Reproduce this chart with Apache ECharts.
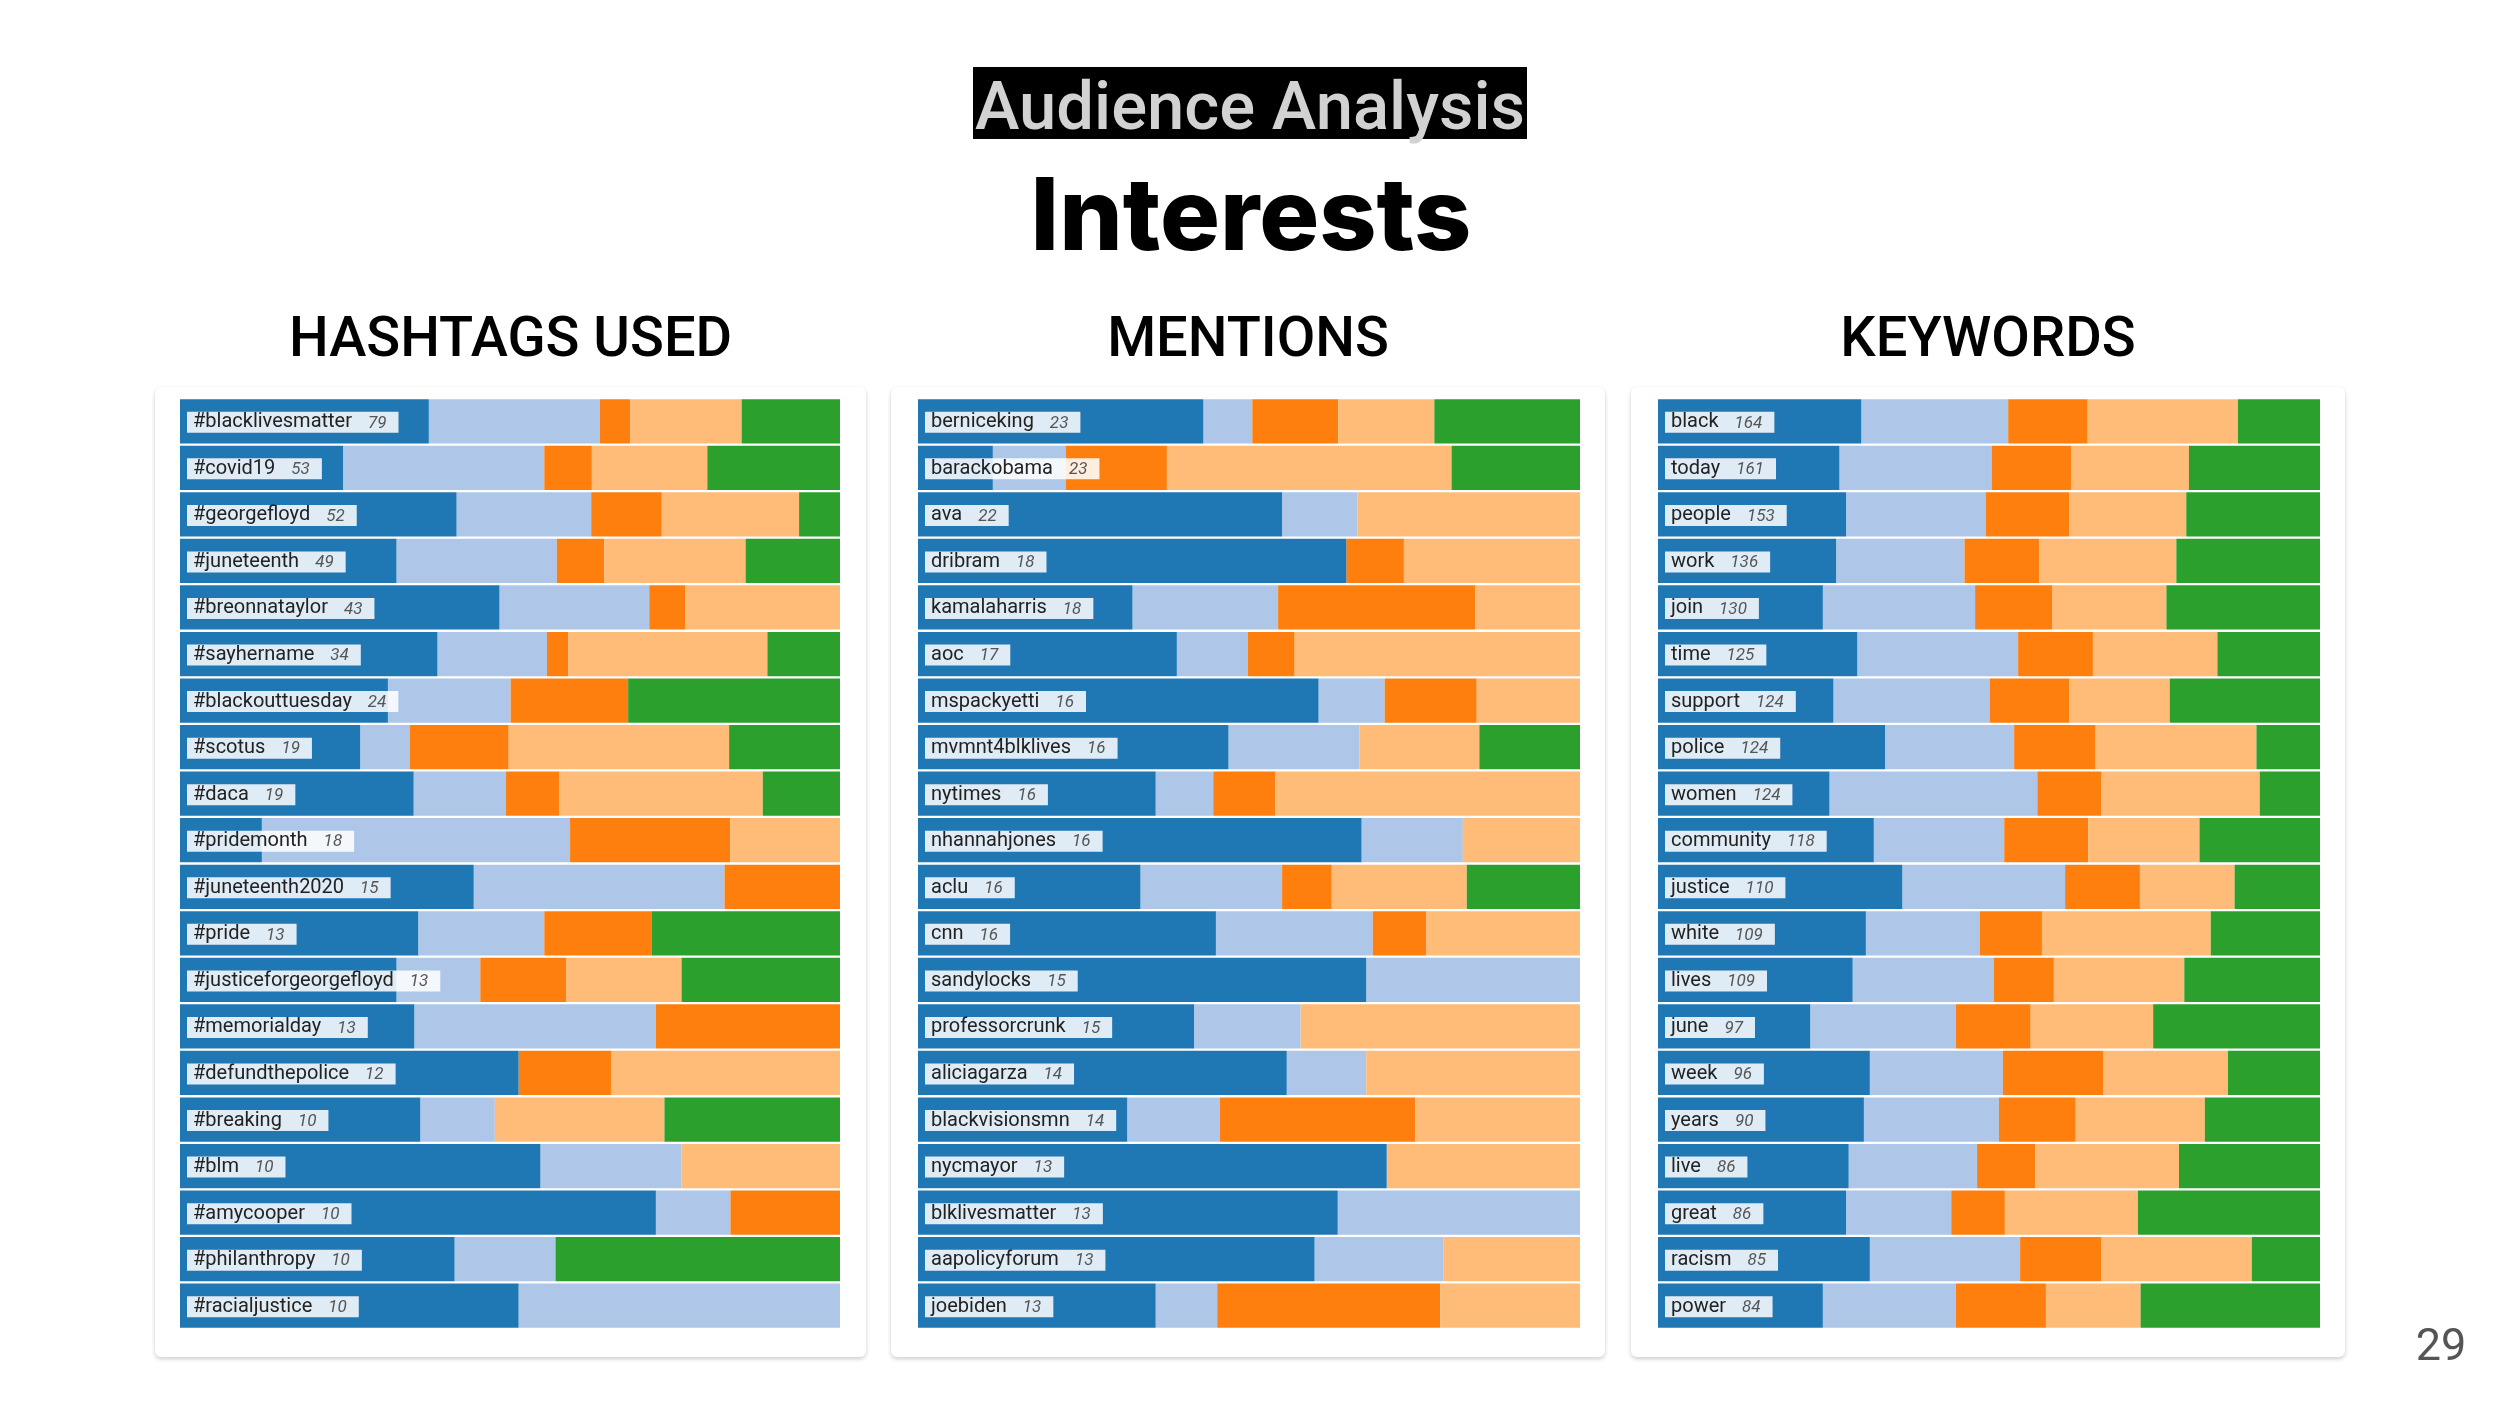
<!DOCTYPE html>
<html><head><meta charset="utf-8">
<script src="https://cdn.jsdelivr.net/npm/echarts@6/dist/echarts.min.js"></script>
<style>html,body{margin:0;padding:0;background:#fff}#c{width:2500px;height:1407px}</style>
</head><body><div id="c"></div>
<script>
// ---------- DATA ----------
const segmentNames = ['Segment 1', 'Segment 2', 'Segment 3', 'Segment 4', 'Segment 5'];
const panelTitles = ['HASHTAGS USED', 'MENTIONS', 'KEYWORDS'];

const hashtagNames = ['#blacklivesmatter','#covid19','#georgefloyd','#juneteenth','#breonnataylor','#sayhername','#blackouttuesday','#scotus','#daca','#pridemonth','#juneteenth2020','#pride','#justiceforgeorgefloyd','#memorialday','#defundthepolice','#breaking','#blm','#amycooper','#philanthropy','#racialjustice'];
const hashtagCounts = [79,53,52,49,43,34,24,19,19,18,15,13,13,13,12,10,10,10,10,10];
const hashtagS1 = [37.7,24.7,41.9,32.8,48.4,39.0,31.5,27.3,35.4,12.4,44.5,36.1,32.8,35.5,51.3,36.4,54.6,72.1,41.6,51.3];
const hashtagS2 = [25.9,30.5,20.4,24.3,22.7,16.6,18.6,7.5,14.0,46.7,38.0,19.1,12.7,36.6,0,11.3,21.4,11.3,15.3,48.7];
const hashtagS3 = [4.6,7.2,10.7,7.2,5.5,3.2,17.8,15.0,8.1,24.3,17.5,16.3,13.0,27.9,14.0,0,0,16.6,0,0];
const hashtagS4 = [16.9,17.5,20.8,21.4,23.4,30.2,0,33.4,30.8,16.6,0,0,17.5,0,34.7,25.7,24.0,0,0,0];
const hashtagS5 = [14.9,20.1,6.2,14.3,0,11.0,32.1,16.8,11.7,0,0,28.5,24.0,0,0,26.6,0,0,43.1,0];

const mentionNames = ['berniceking','barackobama','ava','dribram','kamalaharris','aoc','mspackyetti','mvmnt4blklives','nytimes','nhannahjones','aclu','cnn','sandylocks','professorcrunk','aliciagarza','blackvisionsmn','nycmayor','blklivesmatter','aapolicyforum','joebiden'];
const mentionCounts = [23,23,22,18,18,17,16,16,16,16,16,16,15,15,14,14,13,13,13,13];
const mentionS1 = [43.1,11.3,55.0,64.7,32.4,39.1,60.5,46.9,35.9,67.0,33.6,45.0,67.7,41.7,55.7,31.6,70.8,63.4,59.9,35.9];
const mentionS2 = [7.4,11.0,11.4,0,22.0,10.7,10.0,19.8,8.7,15.3,21.4,23.7,32.3,16.1,12.0,14.0,0,36.6,19.5,9.3];
const mentionS3 = [13.0,15.3,0,8.7,29.8,7.1,13.9,0,9.4,0,7.5,8.1,0,0,0,29.5,0,0,0,33.7];
const mentionS4 = [14.5,43.0,33.6,26.6,15.8,43.1,15.6,18.1,46.0,17.7,20.4,23.2,0,42.2,32.3,24.9,29.2,0,20.6,21.1];
const mentionS5 = [22.0,19.4,0,0,0,0,0,15.2,0,0,17.1,0,0,0,0,0,0,0,0,0];

const keywordNames = ['black','today','people','work','join','time','support','police','women','community','justice','white','lives','june','week','years','live','great','racism','power'];
const keywordCounts = [164,161,153,136,130,125,124,124,124,118,110,109,109,97,96,90,86,86,85,84];
const keywordS1 = [30.7,27.4,28.4,26.9,24.9,30.1,26.5,34.3,25.9,32.6,36.9,31.4,29.4,23.0,32.0,31.1,28.8,28.4,32.0,24.9];
const keywordS2 = [22.2,23.0,21.1,19.4,23.0,24.3,23.6,19.5,31.4,19.7,24.6,17.2,21.3,22.0,20.1,20.4,19.4,15.9,22.7,20.1];
const keywordS3 = [12.0,12.0,12.6,11.3,11.7,11.3,12.0,12.3,9.7,12.7,11.3,9.4,9.1,11.3,15.2,11.6,8.8,8.1,12.3,13.6];
const keywordS4 = [22.7,17.8,17.7,20.7,17.2,18.8,15.2,24.3,23.9,16.8,14.3,25.5,19.7,18.5,18.8,19.5,21.7,20.1,22.7,14.3];
const keywordS5 = [12.4,19.8,20.2,21.7,23.2,15.5,22.7,9.6,9.1,18.2,12.9,16.5,20.5,25.2,13.9,17.4,21.3,27.5,10.3,27.1];

// ---------- STYLE / LAYOUT ----------
const colors = ['#1f77b4', '#aec7e8', '#ff7f0e', '#ffbb78', '#2ca02c'];
const panels = [
  { names: hashtagNames, counts: hashtagCounts, series: [hashtagS1, hashtagS2, hashtagS3, hashtagS4, hashtagS5], left: 180, width: 660, card: [155, 866] },
  { names: mentionNames, counts: mentionCounts, series: [mentionS1, mentionS2, mentionS3, mentionS4, mentionS5], left: 918, width: 662, card: [891, 1605] },
  { names: keywordNames, counts: keywordCounts, series: [keywordS1, keywordS2, keywordS3, keywordS4, keywordS5], left: 1658, width: 662, card: [1631, 2345] }
];
const gridTop = 398, gridHeight = 931;

const grid = [], xAxis = [], yAxis = [], series = [], graphic = [];
panels.forEach((p, i) => {
  grid.push({ left: p.left, width: p.width, top: gridTop, height: gridHeight, containLabel: false });
  xAxis.push({ type: 'value', gridIndex: i, min: 0, max: 100, show: false });
  yAxis.push({ type: 'category', gridIndex: i, data: p.names, inverse: true, show: false });
  p.series.forEach((vals, k) => {
    const s = {
      type: 'bar', name: segmentNames[k], xAxisIndex: i, yAxisIndex: i, stack: 'p' + i,
      data: vals, barCategoryGap: '5%', itemStyle: { color: colors[k] },
      emphasis: { disabled: true }, animation: false, silent: true, z: k === 0 ? 3 : 2
    };
    if (k === 0) {
      const counts = p.counts;
      s.label = {
        show: true, position: 'insideLeft', distance: 7, offset: [0, 1],
        backgroundColor: 'rgba(255,255,255,0.86)', padding: [1, 12, 1, 6],
        formatter: (d) => '{n|' + d.name + '}{v|' + counts[d.dataIndex] + '}',
        rich: {
          n: { fontFamily: 'Roboto', fontSize: 20, color: '#222', lineHeight: 19 },
          v: { fontFamily: 'Roboto', fontSize: 17, fontStyle: 'italic', color: '#555', lineHeight: 19, padding: [2, 0, 0, 16] }
        }
      };
    }
    series.push(s);
  });
  // card
  graphic.push({
    type: 'rect', z: -10, silent: true,
    shape: { x: p.card[0], y: 387, width: p.card[1] - p.card[0], height: 970, r: 6 },
    style: { fill: '#fff', shadowBlur: 4, shadowColor: 'rgba(0,0,0,0.2)', shadowOffsetY: 2 }
  });
  graphic.push({
    type: 'text', silent: true, z: 5,
    x: (p.card[0] + p.card[1]) / 2, y: 342,
    style: { text: panelTitles[i], fontFamily: 'Roboto', fontWeight: 500, fontSize: 56, fill: '#000', align: 'center', verticalAlign: 'middle' }
  });
});

graphic.push({ type: 'rect', silent: true, shape: { x: 973, y: 67, width: 554, height: 72 }, style: { fill: '#000' } });
graphic.push({ type: 'text', silent: true, x: 1250, y: 112, style: { text: 'Audience Analysis', fontFamily: 'Roboto', fontWeight: 500, fontSize: 67, fill: '#d2d2d2', align: 'center', verticalAlign: 'middle' } });
graphic.push({ type: 'text', silent: true, x: 1251, y: 220, style: { text: 'Interests', fontFamily: 'Inter', fontWeight: 800, fontSize: 100, fill: '#000', align: 'center', verticalAlign: 'middle' } });
graphic.push({ type: 'text', silent: true, x: 2441, y: 1349, style: { text: '29', fontFamily: 'Roboto', fontSize: 45, fill: '#555', align: 'center', verticalAlign: 'middle' } });

const chart = echarts.init(document.getElementById('c'), null, { renderer: 'canvas' });
chart.setOption({
  backgroundColor: '#fff',
  animation: false,
  grid, xAxis, yAxis, series, graphic
});
</script></body></html>
